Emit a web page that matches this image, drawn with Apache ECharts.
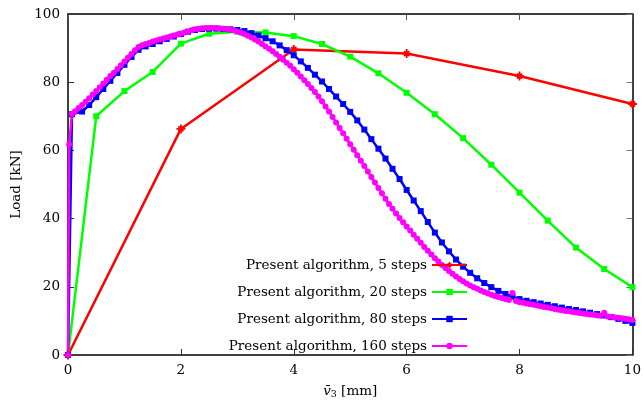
<!DOCTYPE html>
<html>
<head>
<meta charset="utf-8">
<script src="https://cdn.jsdelivr.net/npm/echarts@6/dist/echarts.min.js"></script>
<style>html,body{margin:0;padding:0;background:#fff}#c{width:644px;height:405px}</style>
</head>
<body>
<div id="c"></div>
<script>
// ---- data ----
const seriesNames = ['Present algorithm, 5 steps','Present algorithm, 20 steps','Present algorithm, 80 steps','Present algorithm, 160 steps'];
const xTicks = [0, 2, 4, 6, 8, 10];
const yTicks = [0, 20, 40, 60, 80, 100];

const redX = [0, 2, 4, 6, 8, 10];
const redY = [0, 66.3, 89.6, 88.4, 81.8, 73.6];

const greenX = [0, 0.5, 1, 1.5, 2, 2.5, 3, 3.5, 4, 4.5, 5, 5.5, 6, 6.5, 7, 7.5, 8, 8.5, 9, 9.5, 10];
const greenY = [0, 70.0, 77.4, 83.0, 91.3, 94.2, 94.8, 94.6, 93.5, 91.2, 87.5, 82.6, 76.9, 70.6, 63.6, 55.8, 47.6, 39.4, 31.5, 25.2, 19.9];

const blueX = [0, 0.07, 0.25, 0.375, 0.5, 0.625, 0.75, 0.875, 1, 1.125, 1.25, 1.375, 1.5, 1.625, 1.75, 1.875, 2, 2.125, 2.25, 2.375, 2.5, 2.625, 2.75, 2.875, 3, 3.125, 3.25, 3.375, 3.5, 3.625, 3.75, 3.875, 4, 4.125, 4.25, 4.375, 4.5, 4.625, 4.75, 4.875, 5, 5.125, 5.25, 5.375, 5.5, 5.625, 5.75, 5.875, 6, 6.125, 6.25, 6.375, 6.5, 6.625, 6.75, 6.875, 7, 7.125, 7.25, 7.375, 7.5, 7.625, 7.75, 7.875, 8, 8.125, 8.25, 8.375, 8.5, 8.625, 8.75, 8.875, 9, 9.125, 9.25, 9.375, 9.5, 9.625, 9.75, 9.875, 10];
const blueY = [0, 70.6, 71.4, 73.3, 75.6, 78.0, 80.4, 82.7, 85.1, 87.4, 89.5, 90.5, 91.2, 92.0, 92.7, 93.4, 94.1, 94.8, 95.3, 95.6, 95.7, 95.7, 95.6, 95.5, 95.3, 95.0, 94.4, 93.7, 92.9, 92.0, 90.8, 89.4, 87.9, 86.1, 84.2, 82.2, 80.2, 78.0, 75.8, 73.6, 71.3, 68.8, 66.1, 63.3, 60.5, 57.6, 54.6, 51.6, 48.4, 45.3, 42.2, 39.0, 35.9, 33.0, 30.4, 28.0, 25.9, 24.1, 22.5, 21.1, 19.9, 18.8, 17.9, 17.1, 16.4, 15.9, 15.5, 15.1, 14.7, 14.3, 13.9, 13.5, 13.2, 12.8, 12.4, 12.0, 11.6, 11.1, 10.6, 10.0, 9.4];

const magentaPoints = [
 [0,0],[0.02,61.7],[0.07,70.7],[0.125,71.5],[0.1875,72.4],[0.25,73.3],[0.3125,74.3],[0.375,75.3],[0.4375,76.4],[0.5,77.4],
 [0.5625,78.5],[0.625,79.6],[0.6875,80.7],[0.75,81.8],[0.8125,82.8],[0.875,83.9],[0.9375,85.0],[1,86.1],[1.0625,87.2],[1.125,88.3],
 [1.1875,89.4],[1.25,90.3],[1.3125,90.8],[1.375,91.2],[1.4375,91.5],[1.5,91.9],[1.5625,92.2],[1.625,92.5],[1.6875,92.8],[1.75,93.1],
 [1.8125,93.4],[1.875,93.7],[1.9375,94.0],[2,94.3],[2.0625,94.6],[2.125,94.9],[2.1875,95.2],[2.25,95.5],[2.3125,95.7],[2.375,95.8],
 [2.4375,95.9],[2.5,95.9],[2.5625,95.9],[2.625,95.9],[2.6875,95.8],[2.75,95.7],[2.8125,95.6],[2.875,95.4],[2.9375,95.2],[3,94.9],
 [3.0625,94.5],[3.125,94.1],[3.1875,93.6],[3.25,93.1],[3.3125,92.5],[3.375,91.9],[3.4375,91.2],[3.5,90.5],[3.5625,89.8],[3.625,89.1],
 [3.6875,88.3],[3.75,87.5],[3.8125,86.6],[3.875,85.7],[3.9375,84.8],[4,83.8],[4.0625,82.8],[4.125,81.7],[4.1875,80.6],[4.25,79.5],
 [4.3125,78.3],[4.375,77.1],[4.4375,75.8],[4.5,74.4],[4.5625,72.9],[4.625,71.4],[4.6875,69.8],[4.75,68.2],[4.8125,66.6],[4.875,65.0],
 [4.9375,63.4],[5,61.8],[5.0625,60.2],[5.125,58.6],[5.1875,57.0],[5.25,55.4],[5.3125,53.8],[5.375,52.2],[5.4375,50.6],[5.5,49.0],
 [5.5625,47.4],[5.625,45.8],[5.6875,44.3],[5.75,42.9],[5.8125,41.5],[5.875,40.2],[5.9375,38.9],[6,37.7],[6.0625,36.5],[6.125,35.3],
 [6.1875,34.1],[6.25,32.9],[6.3125,31.7],[6.375,30.6],[6.4375,29.5],[6.5,28.4],[6.5625,27.4],[6.625,26.4],[6.6875,25.5],[6.75,24.6],
 [6.8125,23.8],[6.875,23.0],[6.9375,22.3],[7,21.6],[7.0625,21.0],[7.125,20.4],[7.1875,19.9],[7.25,19.4],[7.3125,18.9],[7.375,18.5],
 [7.4375,18.1],[7.5,17.7],[7.5625,17.3],[7.625,17.0],[7.6875,16.7],[7.75,16.4],[7.8125,16.1],[7.875,18.2],[7.9375,15.8],[8,15.5],
 [8.0625,15.3],[8.125,15.1],[8.1875,14.9],[8.25,14.7],[8.3125,14.5],[8.375,14.3],[8.4375,14.1],[8.5,13.9],[8.5625,13.7],[8.625,13.5],
 [8.6875,13.3],[8.75,13.1],[8.8125,12.9],[8.875,12.8],[8.9375,12.6],[9,12.5],[9.0625,12.3],[9.125,12.2],[9.1875,12.0],[9.25,11.9],
 [9.3125,11.8],[9.375,11.6],[9.4375,11.5],[9.5,12.4],[9.5625,11.3],[9.625,11.2],[9.6875,11.0],[9.75,10.9],[9.8125,10.8],[9.875,10.6],
 [9.9375,10.5],[10,10.3]
];

// ---- chart ----
const FONT = 'DejaVu Serif';
const FS = 13.5;
const zip = (xs, ys) => xs.map((x, i) => [x, ys[i]]);
const asterisk = 'path://M-5,-1L5,-1L5,1L-5,1ZM-1,-5L1,-5L1,5L-1,5ZM-3.5,-2.1L-2.1,-3.5L3.5,2.1L2.1,3.5ZM-3.5,2.1L2.1,-3.5L3.5,-2.1L-2.1,3.5Z';

function mkSeries(name, data, color, symbol, size) {
  return {
    name: name, type: 'line', data: data, color: color,
    symbol: symbol, symbolSize: size, showSymbol: true,
    lineStyle: { color: color, width: 2.5 },
    itemStyle: { color: color, borderWidth: 0 },
    emphasis: { disabled: true }, z: 2
  };
}

const baseX = { type: 'value', min: xTicks[0], max: xTicks[xTicks.length - 1], interval: xTicks[1] - xTicks[0] };
const baseY = { type: 'value', min: yTicks[0], max: yTicks[yTicks.length - 1], interval: yTicks[1] - yTicks[0] };

const chart = echarts.init(document.getElementById('c'), null, { renderer: 'canvas' });
chart.setOption({
  animation: false,
  backgroundColor: '#fff',
  grid: { left: 68, top: 14, width: 566, height: 351, containLabel: false },
  textStyle: { fontFamily: FONT },
  legend: {
    data: seriesNames, orient: 'vertical', align: 'right',
    right: 171, top: 252, itemWidth: 35, itemHeight: 8, itemGap: 11,
    textStyle: { fontFamily: FONT, fontSize: FS, color: '#000', lineHeight: 16 },
    selectedMode: false
  },
  xAxis: [
    Object.assign({}, baseX, {
      position: 'bottom',
      name: '{v|v\u0304}{s|3} [mm]', nameLocation: 'middle', nameGap: 28,
      nameTextStyle: { fontFamily: FONT, fontSize: FS, color: '#000',
        rich: { v: { fontFamily: FONT, fontStyle: 'italic', fontSize: FS, color: '#000' },
                s: { fontFamily: FONT, fontSize: 9.5, color: '#000', padding: [7, 0, 0, 0] } } },
      axisLine: { show: true, onZero: false, lineStyle: { color: '#000', width: 1.5 } },
      axisTick: { show: true, inside: true, length: 6, lineStyle: { color: '#333' } },
      axisLabel: { fontFamily: FONT, fontSize: FS, color: '#000', margin: 8 },
      splitLine: { show: false }
    }),
    Object.assign({}, baseX, {
      position: 'top',
      axisLine: { show: true, onZero: false, lineStyle: { color: '#000', width: 1.5 } },
      axisTick: { show: true, inside: true, length: 6, lineStyle: { color: '#555' } },
      axisLabel: { show: false }, splitLine: { show: false }
    })
  ],
  yAxis: [
    Object.assign({}, baseY, {
      position: 'left',
      name: 'Load [kN]', nameLocation: 'middle', nameGap: 41, nameRotate: 90,
      nameTextStyle: { fontFamily: FONT, fontSize: FS, color: '#000' },
      axisLine: { show: true, onZero: false, lineStyle: { color: '#000', width: 1.5 } },
      axisTick: { show: true, inside: true, length: 6, lineStyle: { color: '#333' } },
      axisLabel: { fontFamily: FONT, fontSize: FS, color: '#000', margin: 8 },
      splitLine: { show: false }
    }),
    Object.assign({}, baseY, {
      position: 'right',
      axisLine: { show: true, onZero: false, lineStyle: { color: '#000', width: 1.5 } },
      axisTick: { show: true, inside: true, length: 6, lineStyle: { color: '#777' } },
      axisLabel: { show: false }, splitLine: { show: false }
    })
  ],
  series: [
    mkSeries(seriesNames[0], zip(redX, redY), '#ff0000', asterisk, 9),
    mkSeries(seriesNames[1], zip(greenX, greenY), '#00ff00', 'rect', 6),
    mkSeries(seriesNames[2], zip(blueX, blueY), '#0000ff', 'rect', 6),
    mkSeries(seriesNames[3], magentaPoints, '#ff00ff', 'circle', 6)
  ]
});
</script>
</body>
</html>
